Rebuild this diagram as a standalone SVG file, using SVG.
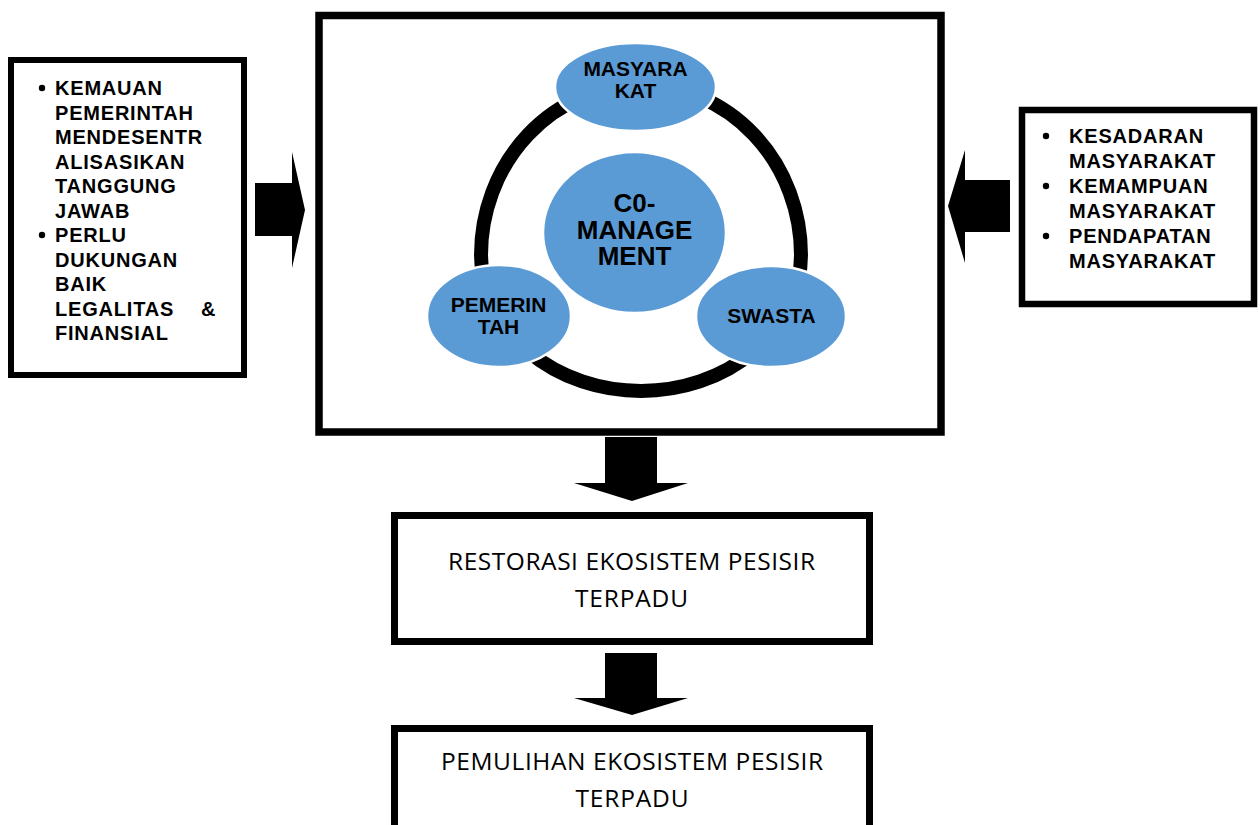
<svg xmlns="http://www.w3.org/2000/svg" width="1260" height="825" viewBox="0 0 1260 825">
<style>
.box{fill:#fff;stroke:#000}
.arrow{fill:#000}
.ell{fill:#5B9BD5;stroke:#fff;stroke-width:2.5}
.b{font-family:"Liberation Sans",Arial,sans-serif;font-weight:bold;fill:#000}
.bl{font-size:20px;letter-spacing:0.8px}
.el{font-size:21px;text-anchor:middle}
.cm{font-size:26px;text-anchor:middle}
.cal{font-family:"Open Sans","Liberation Sans",sans-serif;font-size:24.5px;fill:#000;text-anchor:middle}
</style>
<rect width="1260" height="825" fill="#fff"/>

<g id="main-box">
<rect class="box" x="319" y="15.5" width="622" height="416.5" stroke-width="7.5"/>
</g>

<g id="connectors">
<path d="M 481 255 A 160 170 0 0 1 801 255 A 160 136 0 0 1 481 255 Z" fill="none" stroke="#000" stroke-width="14"/>
<polygon class="arrow" points="255,183 292,183 292,152 305,210 292,268 292,236 255,236"/>
<polygon class="arrow" points="1010,180 965,180 965,150 948,206 965,263 965,232 1010,232"/>
<polygon class="arrow" points="605,437 657,437 657,483 688,483 632,501 574,483 605,483"/>
<polygon class="arrow" points="605,653 657,653 657,698 688,698 632,715 574,698 605,698"/>
</g>

<g id="node-masyarakat">
<ellipse class="ell" cx="635.5" cy="87" rx="80.5" ry="44"/>
<text class="b el" x="635.5" y="76">MASYARA</text>
<text class="b el" x="635.5" y="98">KAT</text>
</g>

<g id="node-comanagement">
<ellipse class="ell" cx="634.5" cy="232.5" rx="91.5" ry="80.5"/>
<text class="b cm" x="634.5" y="212">C0-</text>
<text class="b cm" x="634.5" y="238.5">MANAGE</text>
<text class="b cm" x="634.5" y="265">MENT</text>
</g>

<g id="node-pemerintah">
<ellipse class="ell" cx="499" cy="316" rx="72" ry="51"/>
<text class="b el" x="498.5" y="312">PEMERIN</text>
<text class="b el" x="498.5" y="334">TAH</text>
</g>

<g id="node-swasta">
<ellipse class="ell" cx="771" cy="316.5" rx="75" ry="50.5"/>
<text class="b el" x="771.5" y="323">SWASTA</text>
</g>

<g id="left-box">
<rect class="box" x="11" y="60" width="233" height="315" stroke-width="6"/>
<circle cx="42" cy="88" r="3.2" fill="#000"/>
<circle cx="42" cy="235" r="3.2" fill="#000"/>
<text class="b bl" x="55" y="95">KEMAUAN</text>
<text class="b bl" x="55" y="119.5">PEMERINTAH</text>
<text class="b bl" x="55" y="144">MENDESENTR</text>
<text class="b bl" x="55" y="168.5">ALISASIKAN</text>
<text class="b bl" x="55" y="193">TANGGUNG</text>
<text class="b bl" x="55" y="217.5">JAWAB</text>
<text class="b bl" x="55" y="242">PERLU</text>
<text class="b bl" x="55" y="266.5">DUKUNGAN</text>
<text class="b bl" x="55" y="291">BAIK</text>
<text class="b bl" x="55" y="315.5">LEGALITAS</text>
<text class="b bl" x="201" y="315.5">&amp;</text>
<text class="b bl" x="55" y="340">FINANSIAL</text>
</g>

<g id="right-box">
<rect class="box" x="1022" y="110" width="232" height="194" stroke-width="6.5"/>
<circle cx="1046" cy="136" r="3.2" fill="#000"/>
<circle cx="1046" cy="186" r="3.2" fill="#000"/>
<circle cx="1046" cy="236" r="3.2" fill="#000"/>
<text class="b bl" x="1069" y="143">KESADARAN</text>
<text class="b bl" x="1069" y="167.5">MASYARAKAT</text>
<text class="b bl" x="1069" y="192.5">KEMAMPUAN</text>
<text class="b bl" x="1069" y="217.5">MASYARAKAT</text>
<text class="b bl" x="1069" y="242.5">PENDAPATAN</text>
<text class="b bl" x="1069" y="267.5">MASYARAKAT</text>
</g>

<g id="restorasi">
<rect class="box" x="394.5" y="515.5" width="475" height="126" stroke-width="7"/>
<text class="cal" x="631.5" y="570" textLength="367">RESTORASI EKOSISTEM PESISIR</text>
<text class="cal" x="631.5" y="607" textLength="113">TERPADU</text>
</g>

<g id="pemulihan">
<rect class="box" x="394.5" y="728.5" width="475" height="140" stroke-width="7"/>
<text class="cal" x="632" y="770" textLength="382">PEMULIHAN EKOSISTEM PESISIR</text>
<text class="cal" x="632" y="807" textLength="113">TERPADU</text>
</g>
</svg>
